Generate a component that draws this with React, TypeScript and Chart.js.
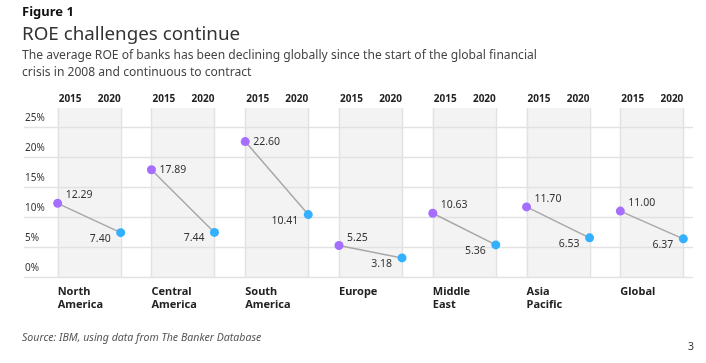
import React, { useEffect, useRef } from "react";
import { Chart, registerables } from "chart.js";
Chart.register(...registerables);

const regionNames: string[][] = [
  ["North", "America"],
  ["Central", "America"],
  ["South", "America"],
  ["Europe"],
  ["Middle", "East"],
  ["Asia", "Pacific"],
  ["Global"],
];
const yearLabels = ["2015", "2020"];
const roe2015 = [12.29, 17.89, 22.6, 5.25, 10.63, 11.7, 11.0];
const roe2020 = [7.4, 7.44, 10.41, 3.18, 5.36, 6.53, 6.37];
const yTickValues = [0, 5, 10, 15, 20, 25];

const PAIR = 0.672; // spacing between the 2015 and 2020 points within a region (in group units)
const PURPLE = "#a56eff";
const BLUE = "#33b1ff";
const FONT = '"Noto Sans", sans-serif';

const panelsPlugin = {
  id: "panels",
  beforeDatasetsDraw(chart: any) {
    const { ctx, chartArea, scales } = chart;
    const x = scales.x;
    const y = scales.y;
    ctx.save();
    // bands
    regionNames.forEach((_, i) => {
      const xa = x.getPixelForValue(i);
      const xb = x.getPixelForValue(i + PAIR);
      ctx.fillStyle = "#f3f3f3";
      ctx.fillRect(xa, chartArea.top, xb - xa, chartArea.bottom - chartArea.top);
    });
    // grid lines
    ctx.strokeStyle = "#e2e2e2";
    ctx.lineWidth = 1.5;
    yTickValues.forEach((t) => {
      const py = Math.round(y.getPixelForValue(t)) + 0.5;
      ctx.beginPath();
      ctx.moveTo(chartArea.left, py);
      ctx.lineTo(chartArea.right, py);
      ctx.stroke();
    });
    // band edges
    regionNames.forEach((_, i) => {
      [i, i + PAIR].forEach((v) => {
        const px = Math.round(x.getPixelForValue(v)) + 0.5;
        ctx.beginPath();
        ctx.moveTo(px, chartArea.top);
        ctx.lineTo(px, chartArea.bottom);
        ctx.stroke();
      });
    });
    // y labels
    ctx.fillStyle = "#333";
    ctx.font = `10px ${FONT}`;
    ctx.textAlign = "left";
    ctx.textBaseline = "middle";
    yTickValues.forEach((t) => {
      ctx.fillText(`${t}%`, chartArea.left + 1, y.getPixelForValue(t) - 9);
    });
    // year labels
    ctx.font = `bold 10px ${FONT}`;
    ctx.fillStyle = "#222";
    regionNames.forEach((_, i) => {
      ctx.textAlign = "left";
      ctx.fillText(yearLabels[0], x.getPixelForValue(i) + 1, chartArea.top - 9);
      ctx.textAlign = "right";
      ctx.fillText(yearLabels[1], x.getPixelForValue(i + PAIR), chartArea.top - 9);
    });
    // region labels
    ctx.font = `bold 11px ${FONT}`;
    ctx.textAlign = "left";
    regionNames.forEach((lines, i) => {
      lines.forEach((ln, k) => {
        ctx.fillText(ln, x.getPixelForValue(i), chartArea.bottom + 15 + k * 12.5);
      });
    });
    ctx.restore();
  },
  afterDatasetsDraw(chart: any) {
    const { ctx, scales } = chart;
    const x = scales.x;
    const y = scales.y;
    ctx.save();
    ctx.font = `10.5px ${FONT}`;
    ctx.fillStyle = "#333";
    ctx.textBaseline = "middle";
    regionNames.forEach((_, i) => {
      const a = roe2015[i];
      const b = roe2020[i];
      const steep = a - b > 8;
      ctx.textAlign = "left";
      ctx.fillText(a.toFixed(2), x.getPixelForValue(i) + 8, y.getPixelForValue(a) - (steep ? 0 : 8));
      ctx.textAlign = "right";
      ctx.fillText(b.toFixed(2), x.getPixelForValue(i + PAIR) - 10, y.getPixelForValue(b) + 6);
    });
    ctx.restore();
  },
};

function ChartCanvas() {
  const ref = useRef<HTMLCanvasElement | null>(null);
  useEffect(() => {
    if (!ref.current) return;
    const datasets = regionNames.map((_, i) => ({
      data: [
        { x: i, y: roe2015[i] },
        { x: i + PAIR, y: roe2020[i] },
      ],
      borderColor: "#a8a8a8",
      borderWidth: 1.5,
      pointBackgroundColor: [PURPLE, BLUE],
      pointBorderWidth: 0,
      pointRadius: 4.5,
      clip: false as any,
    }));
    const chart = new Chart(ref.current, {
      type: "line",
      data: { datasets },
      options: {
        responsive: false,
        animation: false,
        events: [],
        layout: { padding: { left: 24, right: 13, top: 108, bottom: 86 } },
        plugins: { legend: { display: false }, tooltip: { enabled: false } },
        scales: {
          x: { type: "linear", display: false, min: -0.359, max: 6.775 },
          y: { type: "linear", display: false, min: 0, max: 28.2 },
        },
      },
      plugins: [panelsPlugin],
    });
    return () => chart.destroy();
  }, []);
  return (
    <canvas
      ref={ref}
      width={706}
      height={363}
      style={{ position: "absolute", left: 0, top: 0, width: 706, height: 363 }}
    />
  );
}

export default function App() {
  return (
    <div
      style={{
        position: "absolute",
        left: 0,
        top: 0,
        width: 706,
        height: 363,
        background: "#fff",
        fontFamily: FONT,
        overflow: "hidden",
      }}
    >
      <ChartCanvas />
      <div style={{ position: "absolute", left: 22, top: 3, fontSize: 13, lineHeight: "16px", fontWeight: 700, color: "#111" }}>
        Figure 1
      </div>
      <div style={{ position: "absolute", left: 22, top: 21, fontSize: 18.8, lineHeight: "24px", color: "#333" }}>
        ROE challenges continue
      </div>
      <div style={{ position: "absolute", left: 22, top: 46, width: 560, fontSize: 12.1, lineHeight: "17px", color: "#444" }}>
        The average ROE of banks has been declining globally since the start of the global financial
        <br />
        crisis in 2008 and continuous to contract
      </div>
      <div style={{ position: "absolute", left: 22, top: 330, fontSize: 10.6, lineHeight: "15px", fontStyle: "italic", color: "#555" }}>
        Source: IBM, using data from The Banker Database
      </div>
      <div style={{ position: "absolute", left: 688, top: 339, fontSize: 10.5, lineHeight: "15px", color: "#333" }}>
        3
      </div>
    </div>
  );
}
